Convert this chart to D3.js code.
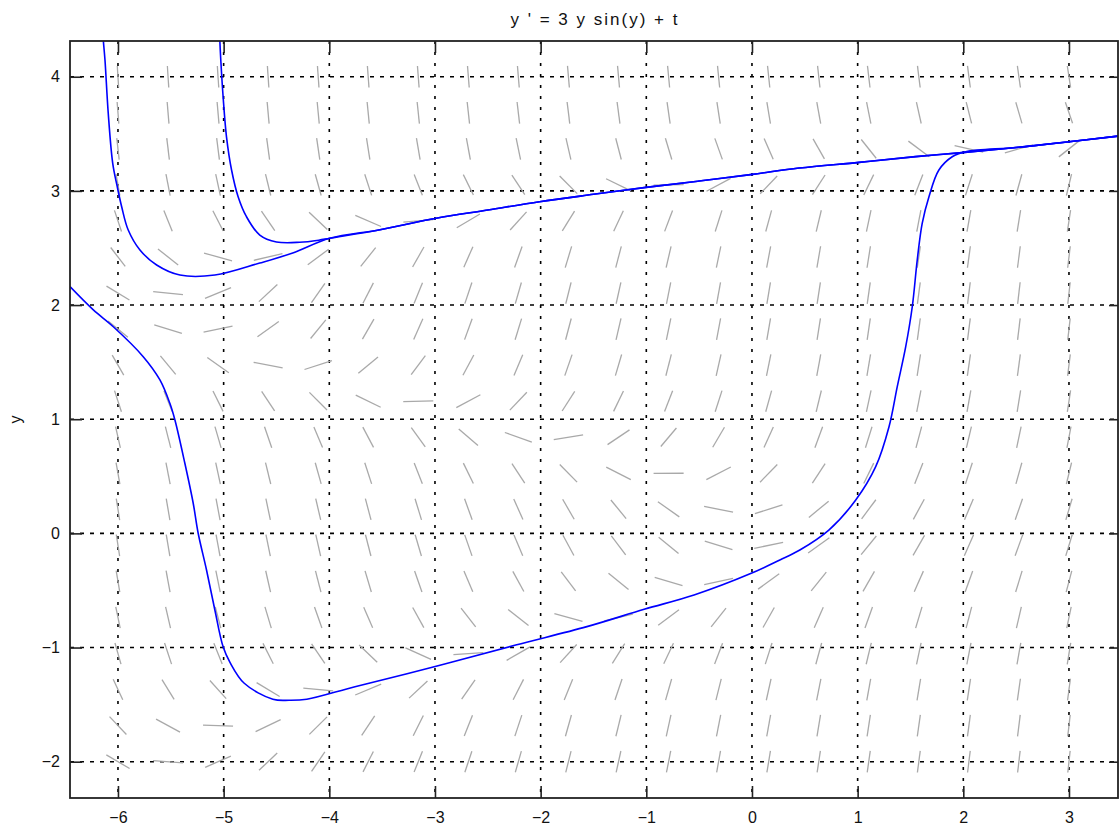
<!DOCTYPE html>
<html>
<head>
<meta charset="utf-8">
<script src="https://cdn.jsdelivr.net/npm/d3@7"></script>
<style>
    body { margin: 0; background: #fff; }
    svg { display: block; font-family: "Liberation Sans", Arial, sans-serif; }
    .axis text { font-size: 16px; fill: #111; }
    .axis line { stroke: #222; stroke-width: 1.6; }
    .axis path { display: none; }
</style>
</head>
<body>
<div id="chart"></div>
<script>
// slope field y' = 3 y sin(y) + t

const tTicks = [-6, -5, -4, -3, -2, -1, 0, 1, 2, 3];
const yTicks = [-2, -1, 0, 1, 2, 3, 4];

// grid points of the direction field (20 x 20)
const fieldT = [-6, -5.526, -5.053, -4.579, -4.105, -3.632, -3.158, -2.684, -2.211, -1.737,
                -1.263, -0.789, -0.316, 0.158, 0.632, 1.105, 1.579, 2.053, 2.526, 3];
const fieldY = [-2, -1.684, -1.368, -1.053, -0.737, -0.421, -0.105, 0.211, 0.526, 0.842,
                1.158, 1.474, 1.789, 2.105, 2.421, 2.737, 3.053, 3.368, 3.684, 4];

// solution curves, [t, y]
const upperTail = [[-3.996, 2.585], [-3.52, 2.66], [-2.988, 2.76], [-2.5, 2.832], [-2.011, 2.905],
                   [-1.5, 2.97], [-1.003, 3.031], [-0.5, 3.086], [0.005, 3.145], [0.446, 3.2],
                   [1.013, 3.25], [1.548, 3.3], [1.989, 3.335], [2.5, 3.38], [3.0, 3.43], [3.464, 3.48]];

const curveAHead = [[-6.145, 4.40], [-6.139, 4.321], [-6.123, 4.146], [-6.092, 3.679], [-6.05, 3.244],
                    [-6.007, 3.037], [-5.965, 2.861], [-5.903, 2.657], [-5.792, 2.482], [-5.634, 2.351],
                    [-5.414, 2.263], [-5.083, 2.263], [-4.658, 2.368], [-4.346, 2.456]];

const curveBHead = [[-5.038, 4.40], [-5.036, 4.321], [-5.026, 4.131], [-5.005, 3.825], [-4.973, 3.474],
                    [-4.925, 3.183], [-4.863, 2.949], [-4.784, 2.774], [-4.658, 2.613], [-4.5, 2.553],
                    [-4.28, 2.55], [-4.1, 2.568]];

const curveCHead = [[-6.454, 2.161], [-6.233, 1.957], [-6.044, 1.81], [-5.761, 1.548], [-5.603, 1.344],
                    [-5.509, 1.139], [-5.461, 0.993], [-5.367, 0.614], [-5.288, 0.264], [-5.241, 0.001],
                    [-5.162, -0.321], [-5.083, -0.671], [-5.005, -0.993], [-4.94, -1.13], [-4.805, -1.313],
                    [-4.534, -1.453], [-4.38, -1.462], [-4.213, -1.453], [-3.757, -1.343], [-2.98, -1.162],
                    [-2.236, -0.978], [-1.562, -0.817], [-1.02, -0.665], [-0.548, -0.54], [-0.007, -0.35],
                    [0.264, -0.233], [0.453, -0.146], [0.73, 0.031], [0.982, 0.292], [1.171, 0.584],
                    [1.297, 0.934], [1.375, 1.285], [1.455, 1.635], [1.517, 1.985], [1.564, 2.394],
                    [1.611, 2.716], [1.675, 2.949], [1.769, 3.183], [1.895, 3.299], [2.022, 3.343]];

const curves = [
    curveAHead.concat(upperTail),
    curveBHead.concat(upperTail),
    curveCHead.concat(upperTail.filter(p => p[0] > 2.3))
];

const width = 1120, height = 832;
const margin = { top: 41, right: 2, bottom: 34, left: 70 };
const w = width - margin.left - margin.right;
const h = height - margin.top - margin.bottom;

const svg = d3.select("#chart")
    .append("svg")
    .attr("width", width)
    .attr("height", height);

const g = svg.append("g")
    .attr("transform", `translate(${margin.left},${margin.top})`);

const x = d3.scaleLinear().domain([-6.454, 3.464]).range([0, w]);
const y = d3.scaleLinear().domain([-2.318, 4.313]).range([h, 0]);

svg.append("defs").append("clipPath")
    .attr("id", "plot-clip")
    .append("rect")
    .attr("width", w)
    .attr("height", h);

// Title
svg.append("text")
    .attr("x", margin.left + w / 2)
    .attr("y", 25)
    .attr("text-anchor", "middle")
    .attr("font-size", 17)
    .attr("textLength", 167)
    .attr("lengthAdjust", "spacing")
    .attr("fill", "#111")
    .text("y ' = 3 y sin(y) + t");

// y label
svg.append("text")
    .attr("transform", `translate(21,${margin.top + h / 2}) rotate(-90)`)
    .attr("text-anchor", "middle")
    .attr("font-size", 16)
    .attr("fill", "#111")
    .text("y");

// Grid
g.append("g").selectAll("line")
    .data(tTicks)
    .enter().append("line")
    .attr("x1", d => x(d)).attr("x2", d => x(d))
    .attr("y1", 0).attr("y2", h)
    .attr("stroke", "#000")
    .attr("stroke-width", 1.6)
    .attr("stroke-dasharray", "3,8");

g.append("g").selectAll("line")
    .data(yTicks)
    .enter().append("line")
    .attr("x1", 0).attr("x2", w)
    .attr("y1", d => y(d)).attr("y2", d => y(d))
    .attr("stroke", "#000")
    .attr("stroke-width", 1.6)
    .attr("stroke-dasharray", "4,6");

// Direction field: short segments centred on every grid point,
// length measured in grid-spacing units
const dT = fieldT[1] - fieldT[0];
const dY = fieldY[1] - fieldY[0];
const slope = (t, yv) => 3 * yv * Math.sin(yv) + t;
const halfLen = 0.3;

const fieldData = [];
fieldT.forEach(t => fieldY.forEach(yv => {
    const m = slope(t, yv) * dT / dY;
    const r = Math.hypot(1, m);
    const du = halfLen * dT / r, dv = halfLen * m * dY / r;
    fieldData.push([[t - du, yv - dv], [t + du, yv + dv]]);
}));

const line = d3.line().x(d => x(d[0])).y(d => y(d[1]));

g.append("g")
    .attr("clip-path", "url(#plot-clip)")
    .selectAll("path")
    .data(fieldData)
    .enter().append("path")
    .attr("d", line)
    .attr("fill", "none")
    .attr("stroke", "#a9a9a9")
    .attr("stroke-width", 1.3);

// Solution curves
const curveLine = d3.line()
    .x(d => x(d[0]))
    .y(d => y(d[1]))
    .curve(d3.curveCatmullRom.alpha(0.5));

g.append("g")
    .attr("clip-path", "url(#plot-clip)")
    .selectAll("path")
    .data(curves)
    .enter().append("path")
    .attr("d", curveLine)
    .attr("fill", "none")
    .attr("stroke", "#0000ff")
    .attr("stroke-width", 1.6);

// Axes (ticks point inward)
g.append("g")
    .attr("class", "axis")
    .attr("transform", `translate(0,${h})`)
    .call(d3.axisBottom(x).tickValues(tTicks).tickSizeInner(-12).tickSizeOuter(0)
        .tickPadding(14).tickFormat(d3.format("d")));

g.append("g")
    .attr("class", "axis")
    .call(d3.axisTop(x).tickValues(tTicks).tickSizeInner(-12).tickSizeOuter(0).tickFormat(""));

g.append("g")
    .attr("class", "axis")
    .call(d3.axisLeft(y).tickValues(yTicks).tickSizeInner(-12).tickSizeOuter(0)
        .tickPadding(10).tickFormat(d3.format("d")));

g.append("g")
    .attr("class", "axis")
    .attr("transform", `translate(${w},0)`)
    .call(d3.axisRight(y).tickValues(yTicks).tickSizeInner(-9).tickSizeOuter(0).tickFormat(""));

// Frame
g.append("rect")
    .attr("width", w)
    .attr("height", h)
    .attr("fill", "none")
    .attr("stroke", "#222")
    .attr("stroke-width", 1.8);
</script>
</body>
</html>
